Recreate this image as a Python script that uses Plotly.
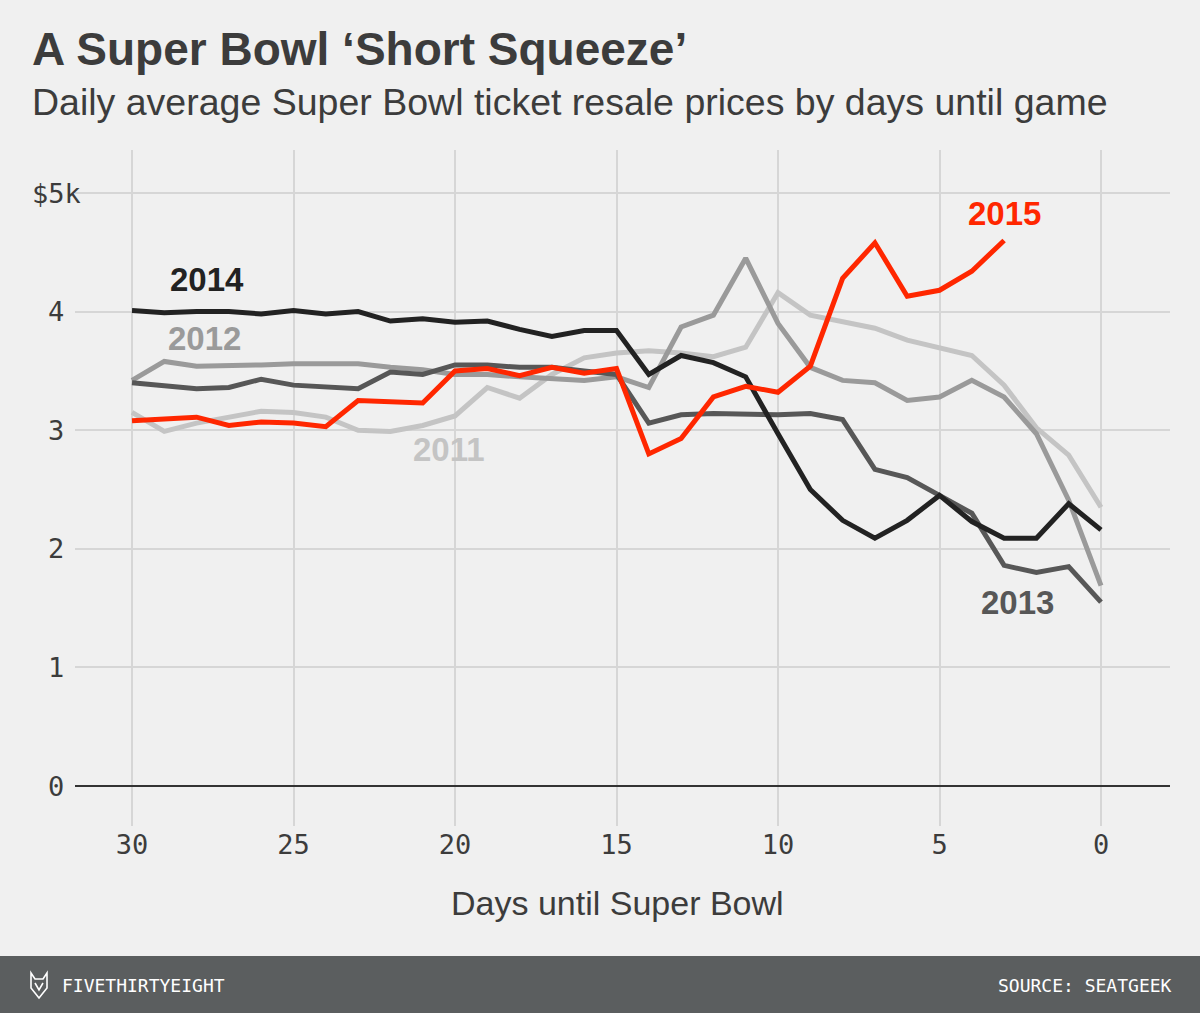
import plotly.graph_objects as go

# ---------------- data ----------------
days = [30, 29, 28, 27, 26, 25, 24, 23, 22, 21, 20, 19, 18, 17, 16, 15,
        14, 13, 12, 11, 10, 9, 8, 7, 6, 5, 4, 3, 2, 1, 0]

price_2011 = [3.15, 2.99, 3.06, 3.11, 3.16, 3.15, 3.11, 3.00, 2.99, 3.04, 3.12,
              3.36, 3.27, 3.47, 3.61, 3.65, 3.67, 3.65, 3.62, 3.70, 4.16, 3.97,
              3.91, 3.86, 3.76, 3.70, 3.63, 3.38, 3.02, 2.79, 2.35]
price_2012 = [3.42, 3.58, 3.54, 3.54, 3.55, 3.56, 3.56, 3.56, 3.53, 3.51, 3.47,
              3.47, 3.45, 3.44, 3.42, 3.45, 3.36, 3.87, 3.97, 4.45, 3.90, 3.53,
              3.42, 3.40, 3.25, 3.28, 3.42, 3.28, 2.97, 2.41, 1.69]
price_2013 = [3.40, 3.37, 3.35, 3.36, 3.43, 3.38, 3.37, 3.35, 3.49, 3.47, 3.55,
              3.55, 3.53, 3.53, 3.50, 3.47, 3.06, 3.13, 3.14, 3.13, 3.13, 3.14,
              3.09, 2.67, 2.60, 2.45, 2.30, 1.86, 1.80, 1.85, 1.55]
price_2014 = [4.01, 3.99, 4.00, 4.00, 3.98, 4.01, 3.98, 4.00, 3.92, 3.94, 3.91,
              3.92, 3.85, 3.79, 3.84, 3.84, 3.47, 3.63, 3.57, 3.45, 2.97, 2.50,
              2.24, 2.09, 2.24, 2.45, 2.23, 2.09, 2.09, 2.38, 2.16]
days_2015 = days[:28]
price_2015 = [3.08, 3.10, 3.11, 3.04, 3.07, 3.06, 3.03, 3.25, 3.24, 3.23, 3.50,
              3.52, 3.46, 3.53, 3.48, 3.52, 2.80, 2.93, 3.28, 3.37, 3.32, 3.54,
              4.28, 4.58, 4.13, 4.18, 4.34, 4.60]

x_ticks = [30, 25, 20, 15, 10, 5, 0]
y_ticks = [0, 1, 2, 3, 4, 5]
y_tick_text = ["0", "1", "2", "3", "4", "$5k"]

# ---------------- styling ----------------
BG = "#f0f0f0"
GRID = "#d6d6d6"
TXT = "#3c3c3c"
SANS = "Liberation Sans"
MONO = "DejaVu Sans Mono"
W, H = 1200, 1013
L, R, T, B = 75, 1170, 150, 826


def px_x(px):
    return (px - L) / (R - L)


def px_y(py):
    return (B - py) / (B - T)


series = [
    ("2011", days, price_2011, "#c4c4c4", (20.19, 2.84)),
    ("2012", days, price_2012, "#9a9a9a", (27.77, 3.77)),
    ("2013", days, price_2013, "#575757", (2.57, 1.55)),
    ("2014", days, price_2014, "#222222", (27.68, 4.27)),
    ("2015", days_2015, price_2015, "#ff2700", (3.0, 4.83)),
]

fig = go.Figure()
annotations = []
for name, xs, ys, col, (lx, ly) in series:
    fig.add_trace(go.Scatter(x=xs, y=ys, mode="lines", name=name,
                             line=dict(color=col, width=5),
                             hoverinfo="skip", showlegend=False))
    annotations.append(dict(x=lx, y=ly, xref="x", yref="y", text="<b>%s</b>" % name,
                            showarrow=False, xanchor="center", yanchor="middle",
                            font=dict(family=SANS, size=33, color=col)))

# y tick labels (digit-centred like the original)
for v, t in zip(y_ticks, y_tick_text):
    annotations.append(dict(x=px_x(56), y=v, xref="paper", yref="y", text=t,
                            showarrow=False, xanchor="center", yanchor="middle",
                            font=dict(family=MONO, size=27, color=TXT)))

# titles
annotations += [
    dict(x=px_x(30), y=px_y(49), xref="paper", yref="paper",
         text="<b>A Super Bowl \u2018Short Squeeze\u2019</b>", showarrow=False,
         xanchor="left", yanchor="middle",
         font=dict(family=SANS, size=46, color=TXT)),
    dict(x=px_x(30), y=px_y(102), xref="paper", yref="paper",
         text="Daily average Super Bowl ticket resale prices by days until game",
         showarrow=False, xanchor="left", yanchor="middle",
         font=dict(family=SANS, size=37.5, color=TXT)),
    dict(x=px_x(617), y=px_y(903), xref="paper", yref="paper",
         text="Days until Super Bowl", showarrow=False,
         xanchor="center", yanchor="middle",
         font=dict(family=SANS, size=34, color=TXT)),
    dict(x=px_x(60), y=px_y(985), xref="paper", yref="paper",
         text="FIVETHIRTYEIGHT", showarrow=False, xanchor="left", yanchor="middle",
         font=dict(family=MONO, size=18, color="white")),
    dict(x=px_x(1174), y=px_y(985), xref="paper", yref="paper",
         text="SOURCE: SEATGEEK", showarrow=False, xanchor="right", yanchor="middle",
         font=dict(family=MONO, size=18, color="white")),
]

shapes = [
    # footer bar
    dict(type="rect", xref="paper", yref="paper", x0=px_x(0), x1=px_x(W),
         y0=px_y(H + 2), y1=px_y(956), fillcolor="#5b5e5f", line=dict(width=0),
         layer="above"),
    # shorten the $5k gridline
    dict(type="rect", xref="paper", yref="y", x0=px_x(74), x1=px_x(99),
         y0=4.97, y1=5.03, fillcolor=BG, line=dict(width=0), layer="between"),
    # logo outline
    dict(type="path", xref="paper", yref="paper",
         xsizemode="pixel", ysizemode="pixel",
         xanchor=px_x(39), yanchor=px_y(985),
         path="M -8 12 L -4 6 L 4 6 L 8 12 L 8 -3 L 0 -13 L -8 -3 Z M -4 2 L 0 -5 L 4 2",
         line=dict(color="white", width=1.6), layer="above"),
]

fig.update_layout(
    width=W, height=H,
    margin=dict(l=L, r=W - R, t=T, b=H - B, pad=0),
    paper_bgcolor=BG, plot_bgcolor=BG,
    annotations=annotations, shapes=shapes,
    xaxis=dict(range=[30 + 57 / 32.3, -69 / 32.3], tickvals=x_ticks,
               showgrid=True, gridcolor=GRID, gridwidth=2,
               zeroline=False, showline=False, ticks="",
               tickfont=dict(family=MONO, size=27, color=TXT),
               fixedrange=True),
    yaxis=dict(range=[-40 / 118.6, 636 / 118.6], tickvals=y_ticks,
               showticklabels=False, showgrid=True, gridcolor=GRID, gridwidth=2,
               zeroline=True, zerolinecolor="#333333", zerolinewidth=2,
               showline=False, ticks="", fixedrange=True),
)

fig.write_html("out.html")
